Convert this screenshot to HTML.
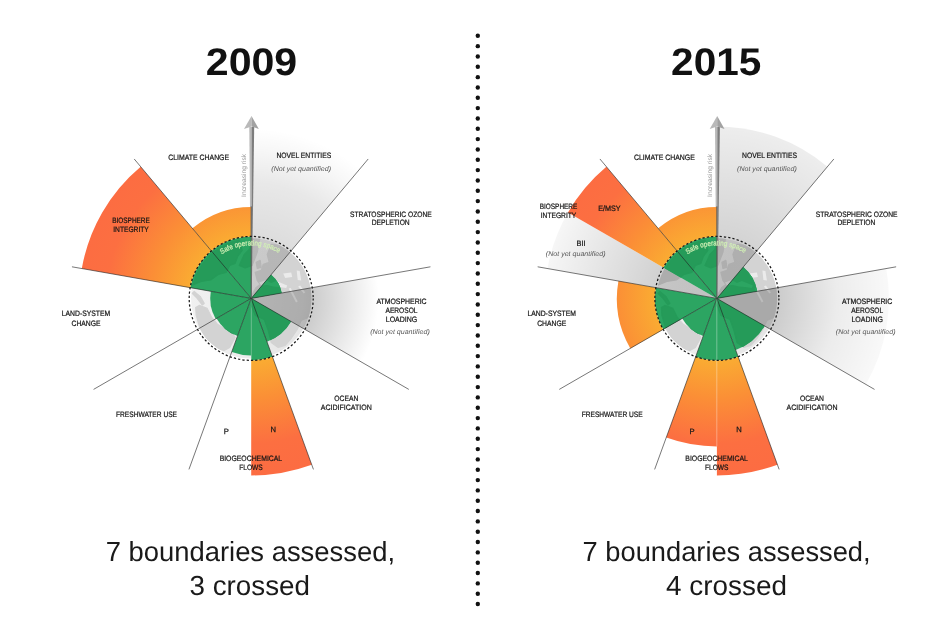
<!DOCTYPE html>
<html lang="en">
<head>
<meta charset="utf-8">
<title>Planetary boundaries 2009 vs 2015</title>
<style>
html,body{margin:0;padding:0;background:#fff;}
body{width:945px;height:627px;overflow:hidden;}
svg{display:block;font-family:"Liberation Sans", sans-serif;text-rendering:geometricPrecision;}
.lb{font-size:7.8px;fill:#151515;stroke:#151515;stroke-width:0.22px;}
.pn{font-size:7.6px;fill:#1a1a1a;stroke:#1a1a1a;stroke-width:0.25px;}
.it{font-size:6.8px;font-style:italic;fill:#555;}
.ttl{font-size:38.5px;font-weight:bold;fill:#111;}
.sub{font-size:27.6px;fill:#1a1a1a;}
</style>
</head>
<body>
<svg width="945" height="627" viewBox="0 0 945 627">
<rect width="945" height="627" fill="#fff"/>
<g fill="#111">
<circle cx="477.8" cy="35.80" r="2.2"/>
<circle cx="477.8" cy="46.13" r="2.2"/>
<circle cx="477.8" cy="56.46" r="2.2"/>
<circle cx="477.8" cy="66.80" r="2.2"/>
<circle cx="477.8" cy="77.13" r="2.2"/>
<circle cx="477.8" cy="87.46" r="2.2"/>
<circle cx="477.8" cy="97.79" r="2.2"/>
<circle cx="477.8" cy="108.12" r="2.2"/>
<circle cx="477.8" cy="118.46" r="2.2"/>
<circle cx="477.8" cy="128.79" r="2.2"/>
<circle cx="477.8" cy="139.12" r="2.2"/>
<circle cx="477.8" cy="149.45" r="2.2"/>
<circle cx="477.8" cy="159.78" r="2.2"/>
<circle cx="477.8" cy="170.12" r="2.2"/>
<circle cx="477.8" cy="180.45" r="2.2"/>
<circle cx="477.8" cy="190.78" r="2.2"/>
<circle cx="477.8" cy="201.11" r="2.2"/>
<circle cx="477.8" cy="211.44" r="2.2"/>
<circle cx="477.8" cy="221.78" r="2.2"/>
<circle cx="477.8" cy="232.11" r="2.2"/>
<circle cx="477.8" cy="242.44" r="2.2"/>
<circle cx="477.8" cy="252.77" r="2.2"/>
<circle cx="477.8" cy="263.10" r="2.2"/>
<circle cx="477.8" cy="273.44" r="2.2"/>
<circle cx="477.8" cy="283.77" r="2.2"/>
<circle cx="477.8" cy="294.10" r="2.2"/>
<circle cx="477.8" cy="304.43" r="2.2"/>
<circle cx="477.8" cy="314.76" r="2.2"/>
<circle cx="477.8" cy="325.10" r="2.2"/>
<circle cx="477.8" cy="335.43" r="2.2"/>
<circle cx="477.8" cy="345.76" r="2.2"/>
<circle cx="477.8" cy="356.09" r="2.2"/>
<circle cx="477.8" cy="366.42" r="2.2"/>
<circle cx="477.8" cy="376.76" r="2.2"/>
<circle cx="477.8" cy="387.09" r="2.2"/>
<circle cx="477.8" cy="397.42" r="2.2"/>
<circle cx="477.8" cy="407.75" r="2.2"/>
<circle cx="477.8" cy="418.08" r="2.2"/>
<circle cx="477.8" cy="428.42" r="2.2"/>
<circle cx="477.8" cy="438.75" r="2.2"/>
<circle cx="477.8" cy="449.08" r="2.2"/>
<circle cx="477.8" cy="459.41" r="2.2"/>
<circle cx="477.8" cy="469.74" r="2.2"/>
<circle cx="477.8" cy="480.08" r="2.2"/>
<circle cx="477.8" cy="490.41" r="2.2"/>
<circle cx="477.8" cy="500.74" r="2.2"/>
<circle cx="477.8" cy="511.07" r="2.2"/>
<circle cx="477.8" cy="521.40" r="2.2"/>
<circle cx="477.8" cy="531.74" r="2.2"/>
<circle cx="477.8" cy="542.07" r="2.2"/>
<circle cx="477.8" cy="552.40" r="2.2"/>
<circle cx="477.8" cy="562.73" r="2.2"/>
<circle cx="477.8" cy="573.06" r="2.2"/>
<circle cx="477.8" cy="583.40" r="2.2"/>
<circle cx="477.8" cy="593.73" r="2.2"/>
<circle cx="477.8" cy="604.06" r="2.2"/>
</g>
<text x="251.5" y="75" class="ttl" text-anchor="middle" textLength="91.4" lengthAdjust="spacingAndGlyphs">2009</text>
<text x="716.2" y="75" class="ttl" text-anchor="middle" textLength="90.2" lengthAdjust="spacingAndGlyphs">2015</text>
<g>
<defs>
<radialGradient id="ora" gradientUnits="userSpaceOnUse" cx="251.2" cy="298.4" r="177">
<stop offset="0.34" stop-color="#faad32"/><stop offset="0.565" stop-color="#fb8f36"/><stop offset="0.82" stop-color="#fc6f41"/><stop offset="1" stop-color="#fc6c42"/>
</radialGradient>
<radialGradient id="gfa" gradientUnits="userSpaceOnUse" cx="251.2" cy="298.4" r="170">
<stop offset="0" stop-color="#000" stop-opacity="0.14"/><stop offset="0.365" stop-color="#000" stop-opacity="0.135"/><stop offset="0.68" stop-color="#000" stop-opacity="0.09"/><stop offset="0.88" stop-color="#000" stop-opacity="0.03"/><stop offset="1" stop-color="#000" stop-opacity="0"/>
</radialGradient>
<radialGradient id="gaa" gradientUnits="userSpaceOnUse" cx="251.2" cy="298.4" r="128">
<stop offset="0" stop-color="#000" stop-opacity="0.15"/><stop offset="0.4" stop-color="#000" stop-opacity="0.18"/><stop offset="0.48" stop-color="#000" stop-opacity="0.2"/><stop offset="1" stop-color="#000" stop-opacity="0"/>
</radialGradient>
<radialGradient id="gsa" gradientUnits="userSpaceOnUse" cx="251.2" cy="298.4" r="172">
<stop offset="0" stop-color="#000" stop-opacity="0.18"/><stop offset="0.36" stop-color="#000" stop-opacity="0.17"/><stop offset="1" stop-color="#000" stop-opacity="0.07"/>
</radialGradient>
<radialGradient id="gba" gradientUnits="userSpaceOnUse" cx="251.2" cy="298.4" r="172">
<stop offset="0" stop-color="#000" stop-opacity="0.18"/><stop offset="0.36" stop-color="#000" stop-opacity="0.18"/><stop offset="1" stop-color="#000" stop-opacity="0.035"/>
</radialGradient>
<radialGradient id="gca" gradientUnits="userSpaceOnUse" cx="251.2" cy="298.4" r="172">
<stop offset="0" stop-color="#000" stop-opacity="0.2"/><stop offset="0.36" stop-color="#000" stop-opacity="0.2"/><stop offset="0.7" stop-color="#000" stop-opacity="0.075"/><stop offset="1" stop-color="#000" stop-opacity="0.025"/>
</radialGradient>
<linearGradient id="gla" x1="0" x2="1" y1="0" y2="0"><stop offset="0" stop-color="#f1f1f1"/><stop offset="1" stop-color="#e4e4e4"/></linearGradient>
<clipPath id="cga"><circle cx="251.2" cy="298.4" r="60.2"/></clipPath>
<path id="tpa" d="M205.30 271.90A53 53 0 0 1 297.10 271.90"/>
</defs>
<circle cx="251.2" cy="298.4" r="60.2" fill="url(#gla)"/>
<g clip-path="url(#cga)"><g transform="translate(251.2 298.4)"><g fill="#d3d3d3" stroke="#d3d3d3" stroke-width="1.2" stroke-linejoin="round">
<path d="M-62 -12 L-50 -17 L-40.5 -18.5 L-33 -24 L-25 -26 L-21.5 -33 L-16 -35 L-13.5 -42 L-9 -48 L-13 -62 L-40 -52 L-56 -34Z"/>
<path d="M-12 -33 L-7 -44 L-2 -49 L2 -62 L9 -62 L6 -46 L1 -33 L-6 -30.5Z"/>
<path d="M-57 -7 L-51 -2 L-47 5 L-49 6.5 L-54 0 L-59 -5Z"/>
<path d="M-52 7 L-44 10 L-39.5 19 L-34 25.5 L-27 30 L-18.5 35.5 L-16 39 L-19 44.5 L-21.5 49 L-27 52 L-33 50.5 L-44 41.5 L-51.5 29 L-55 17 L-55.5 9Z"/>
<path d="M6 -18 L4 -26 L10 -28 L12 -34 L18 -36 L16 -44 L20 -54 L30 -53 L41 -46 L51 -36 L58 -22 L62 -6 L62 6 L57 19 L50 22 L46 31 L40 40 L34 47 L27 49 L20 44 L17 32 L13 21 L4 17 L0 7 L1 -4 L5 -11 L9 -14Z"/>
<path d="M5 -36 L9 -38 L10 -31 L6 -30Z"/>
</g><g fill="#ebebeb">
<path d="M8 -16 L15 -18.5 L20 -15.5 L25 -17.5 L30 -15.5 L36 -13 L35 -10.5 L28 -11.5 L22 -12 L16 -13.5 L10 -13Z"/>
<path d="M32 -25 L40 -26 L41 -21.5 L34 -20.5Z"/>
<path d="M45.5 -28 L48.5 -27.5 L50 -18 L46.5 -18.5Z"/>
<path d="M37.5 -10 L39.5 -10.5 L46.5 3 L44.8 4Z"/>
<path d="M47 -12 L49 -13 L54 -6 L52.5 -5Z"/>
</g></g></g>
<path d="M251.20 298.40L251.20 128.40A170 170 0 0 1 360.47 168.17Z" fill="url(#gfa)"/>
<path d="M251.20 298.40L377.26 276.17A128 128 0 0 1 362.05 362.40Z" fill="url(#gaa)"/>
<path d="M249.30 127.10L251.80 127.10L251.80 298.40L250.80 298.40Z" fill="#b9b9b9"/>
<path d="M251.70 127.10L254.20 127.10L251.70 298.40Z" fill="#7d7d7d"/>
<path d="M251.50 116.10L244.00 128.90L251.50 126.40Z" fill="#b9b9b9"/>
<path d="M251.50 116.10L258.80 128.90L251.50 126.40Z" fill="#a2a2a2"/>
<path d="M251.20 298.40L211.35 250.91A62 62 0 0 1 251.20 236.40Z" fill="#2ca562"/>
<path d="M251.20 298.40L190.14 287.63A62 62 0 0 1 211.35 250.91Z" fill="#2ca562"/>
<path d="M251.20 298.40L215.69 318.90A41 41 0 0 1 210.82 291.28Z" fill="#2ca562"/>
<path d="M251.20 298.40L237.52 335.99A40 40 0 0 1 216.56 318.40Z" fill="#2ca562"/>
<path d="M251.20 298.40L251.20 355.40A57 57 0 0 1 231.70 351.96Z" fill="#2ca562"/>
<path d="M251.20 298.40L272.41 356.66A62 62 0 0 1 251.20 360.40Z" fill="#2ca562"/>
<path d="M251.20 298.40L291.04 321.40A46 46 0 0 1 266.93 341.63Z" fill="#2ca562"/>
<path d="M251.20 298.40L271.13 274.65A31 31 0 0 1 281.73 293.02Z" fill="#2ca562"/>
<clipPath id="cgra"><path d="M251.20 298.40L211.35 250.91A62 62 0 0 1 251.20 236.40Z M251.20 298.40L190.14 287.63A62 62 0 0 1 211.35 250.91Z M251.20 298.40L215.69 318.90A41 41 0 0 1 210.82 291.28Z M251.20 298.40L237.52 335.99A40 40 0 0 1 216.56 318.40Z M251.20 298.40L251.20 355.40A57 57 0 0 1 231.70 351.96Z M251.20 298.40L272.41 356.66A62 62 0 0 1 251.20 360.40Z M251.20 298.40L291.04 321.40A46 46 0 0 1 266.93 341.63Z M251.20 298.40L271.13 274.65A31 31 0 0 1 281.73 293.02Z"/></clipPath>
<g clip-path="url(#cgra)"><g clip-path="url(#cga)"><g transform="translate(251.2 298.4)"><g fill="#259b59" stroke="#259b59" stroke-width="1.2" stroke-linejoin="round">
<path d="M-62 -12 L-50 -17 L-40.5 -18.5 L-33 -24 L-25 -26 L-21.5 -33 L-16 -35 L-13.5 -42 L-9 -48 L-13 -62 L-40 -52 L-56 -34Z"/>
<path d="M-12 -33 L-7 -44 L-2 -49 L2 -62 L9 -62 L6 -46 L1 -33 L-6 -30.5Z"/>
<path d="M-57 -7 L-51 -2 L-47 5 L-49 6.5 L-54 0 L-59 -5Z"/>
<path d="M-52 7 L-44 10 L-39.5 19 L-34 25.5 L-27 30 L-18.5 35.5 L-16 39 L-19 44.5 L-21.5 49 L-27 52 L-33 50.5 L-44 41.5 L-51.5 29 L-55 17 L-55.5 9Z"/>
<path d="M6 -18 L4 -26 L10 -28 L12 -34 L18 -36 L16 -44 L20 -54 L30 -53 L41 -46 L51 -36 L58 -22 L62 -6 L62 6 L57 19 L50 22 L46 31 L40 40 L34 47 L27 49 L20 44 L17 32 L13 21 L4 17 L0 7 L1 -4 L5 -11 L9 -14Z"/>
<path d="M5 -36 L9 -38 L10 -31 L6 -30Z"/>
</g><g fill="#2ca562">
<path d="M8 -16 L15 -18.5 L20 -15.5 L25 -17.5 L30 -15.5 L36 -13 L35 -10.5 L28 -11.5 L22 -12 L16 -13.5 L10 -13Z"/>
<path d="M32 -25 L40 -26 L41 -21.5 L34 -20.5Z"/>
<path d="M45.5 -28 L48.5 -27.5 L50 -18 L46.5 -18.5Z"/>
<path d="M37.5 -10 L39.5 -10.5 L46.5 3 L44.8 4Z"/>
<path d="M47 -12 L49 -13 L54 -6 L52.5 -5Z"/>
</g></g></g></g>
<path d="M211.35 250.91L192.38 228.31A91.5 91.5 0 0 1 251.20 206.90L251.20 236.40A62 62 0 0 0 211.35 250.91Z" fill="url(#ora)"/>
<path d="M190.14 287.63L81.81 268.53A172 172 0 0 1 140.64 166.64L211.35 250.91A62 62 0 0 0 190.14 287.63Z" fill="url(#ora)"/>
<path d="M272.41 356.66L311.74 464.73A177 177 0 0 1 251.20 475.40L251.20 360.40A62 62 0 0 0 272.41 356.66Z" fill="url(#ora)"/>
<line x1="251.2" y1="298.4" x2="368.19" y2="158.98" stroke="#222" stroke-width="0.62"/>
<line x1="251.2" y1="298.4" x2="430.44" y2="266.80" stroke="#222" stroke-width="0.62"/>
<line x1="251.2" y1="298.4" x2="408.82" y2="389.40" stroke="#222" stroke-width="0.62"/>
<line x1="251.2" y1="298.4" x2="313.45" y2="469.42" stroke="#222" stroke-width="0.62"/>
<line x1="251.2" y1="298.4" x2="188.95" y2="469.42" stroke="#222" stroke-width="0.62"/>
<line x1="251.2" y1="298.4" x2="93.58" y2="389.40" stroke="#222" stroke-width="0.62"/>
<line x1="251.2" y1="298.4" x2="71.96" y2="266.80" stroke="#222" stroke-width="0.62"/>
<line x1="251.2" y1="298.4" x2="134.21" y2="158.98" stroke="#222" stroke-width="0.62"/>
<line x1="251.2" y1="298.4" x2="251.2" y2="360.4" stroke="#fff" stroke-opacity="0.35" stroke-width="0.5"/>
<line x1="251.2" y1="298.4" x2="251.2" y2="206.39999999999998" stroke="#555" stroke-width="1"/>
<circle cx="251.2" cy="298.4" r="62" fill="none" stroke="#1a1a1a" stroke-width="1.25" stroke-dasharray="2.25 2.08"/>
<text transform="translate(246.00 196.90) rotate(-90)" font-size="6.6" fill="#949494" textLength="43" lengthAdjust="spacingAndGlyphs">Increasing risk</text>
<text font-size="7.4" fill="#d2f0b6" stroke="#d2f0b6" stroke-width="0.2"><textPath href="#tpa" startOffset="49%" text-anchor="middle" textLength="60" lengthAdjust="spacingAndGlyphs">Safe operating space</textPath></text>
</g>
<g>
<defs>
<radialGradient id="orb" gradientUnits="userSpaceOnUse" cx="716.9" cy="298.4" r="177">
<stop offset="0.34" stop-color="#faad32"/><stop offset="0.565" stop-color="#fb8f36"/><stop offset="0.82" stop-color="#fc6f41"/><stop offset="1" stop-color="#fc6c42"/>
</radialGradient>
<radialGradient id="gfb" gradientUnits="userSpaceOnUse" cx="716.9" cy="298.4" r="170">
<stop offset="0" stop-color="#000" stop-opacity="0.14"/><stop offset="0.365" stop-color="#000" stop-opacity="0.135"/><stop offset="0.68" stop-color="#000" stop-opacity="0.09"/><stop offset="0.88" stop-color="#000" stop-opacity="0.03"/><stop offset="1" stop-color="#000" stop-opacity="0"/>
</radialGradient>
<radialGradient id="gab" gradientUnits="userSpaceOnUse" cx="716.9" cy="298.4" r="128">
<stop offset="0" stop-color="#000" stop-opacity="0.15"/><stop offset="0.4" stop-color="#000" stop-opacity="0.18"/><stop offset="0.48" stop-color="#000" stop-opacity="0.2"/><stop offset="1" stop-color="#000" stop-opacity="0"/>
</radialGradient>
<radialGradient id="gsb" gradientUnits="userSpaceOnUse" cx="716.9" cy="298.4" r="172">
<stop offset="0" stop-color="#000" stop-opacity="0.18"/><stop offset="0.36" stop-color="#000" stop-opacity="0.17"/><stop offset="1" stop-color="#000" stop-opacity="0.07"/>
</radialGradient>
<radialGradient id="gbb" gradientUnits="userSpaceOnUse" cx="716.9" cy="298.4" r="172">
<stop offset="0" stop-color="#000" stop-opacity="0.18"/><stop offset="0.36" stop-color="#000" stop-opacity="0.18"/><stop offset="1" stop-color="#000" stop-opacity="0.035"/>
</radialGradient>
<radialGradient id="gcb" gradientUnits="userSpaceOnUse" cx="716.9" cy="298.4" r="172">
<stop offset="0" stop-color="#000" stop-opacity="0.2"/><stop offset="0.36" stop-color="#000" stop-opacity="0.2"/><stop offset="0.7" stop-color="#000" stop-opacity="0.075"/><stop offset="1" stop-color="#000" stop-opacity="0.025"/>
</radialGradient>
<linearGradient id="glb" x1="0" x2="1" y1="0" y2="0"><stop offset="0" stop-color="#f1f1f1"/><stop offset="1" stop-color="#e4e4e4"/></linearGradient>
<clipPath id="cgb"><circle cx="716.9" cy="298.4" r="60.2"/></clipPath>
<path id="tpb" d="M671.00 271.90A53 53 0 0 1 762.80 271.90"/>
</defs>
<circle cx="716.9" cy="298.4" r="60.2" fill="url(#glb)"/>
<g clip-path="url(#cgb)"><g transform="translate(716.9 298.4)"><g fill="#d3d3d3" stroke="#d3d3d3" stroke-width="1.2" stroke-linejoin="round">
<path d="M-62 -12 L-50 -17 L-40.5 -18.5 L-33 -24 L-25 -26 L-21.5 -33 L-16 -35 L-13.5 -42 L-9 -48 L-13 -62 L-40 -52 L-56 -34Z"/>
<path d="M-12 -33 L-7 -44 L-2 -49 L2 -62 L9 -62 L6 -46 L1 -33 L-6 -30.5Z"/>
<path d="M-57 -7 L-51 -2 L-47 5 L-49 6.5 L-54 0 L-59 -5Z"/>
<path d="M-52 7 L-44 10 L-39.5 19 L-34 25.5 L-27 30 L-18.5 35.5 L-16 39 L-19 44.5 L-21.5 49 L-27 52 L-33 50.5 L-44 41.5 L-51.5 29 L-55 17 L-55.5 9Z"/>
<path d="M6 -18 L4 -26 L10 -28 L12 -34 L18 -36 L16 -44 L20 -54 L30 -53 L41 -46 L51 -36 L58 -22 L62 -6 L62 6 L57 19 L50 22 L46 31 L40 40 L34 47 L27 49 L20 44 L17 32 L13 21 L4 17 L0 7 L1 -4 L5 -11 L9 -14Z"/>
<path d="M5 -36 L9 -38 L10 -31 L6 -30Z"/>
</g><g fill="#ebebeb">
<path d="M8 -16 L15 -18.5 L20 -15.5 L25 -17.5 L30 -15.5 L36 -13 L35 -10.5 L28 -11.5 L22 -12 L16 -13.5 L10 -13Z"/>
<path d="M32 -25 L40 -26 L41 -21.5 L34 -20.5Z"/>
<path d="M45.5 -28 L48.5 -27.5 L50 -18 L46.5 -18.5Z"/>
<path d="M37.5 -10 L39.5 -10.5 L46.5 3 L44.8 4Z"/>
<path d="M47 -12 L49 -13 L54 -6 L52.5 -5Z"/>
</g></g></g>
<path d="M716.90 298.40L716.90 126.40A172 172 0 0 1 827.46 166.64Z" fill="url(#gsb)"/>
<path d="M716.90 298.40L886.29 268.53A172 172 0 0 1 865.86 384.40Z" fill="url(#gcb)"/>
<path d="M716.90 298.40L547.51 268.53A172 172 0 0 1 567.94 212.40Z" fill="url(#gbb)"/>
<path d="M715.00 127.10L717.50 127.10L717.50 298.40L716.50 298.40Z" fill="#b9b9b9"/>
<path d="M717.40 127.10L719.90 127.10L717.40 298.40Z" fill="#7d7d7d"/>
<path d="M717.20 116.10L709.70 128.90L717.20 126.40Z" fill="#b9b9b9"/>
<path d="M717.20 116.10L724.50 128.90L717.20 126.40Z" fill="#a2a2a2"/>
<path d="M716.90 298.40L677.05 250.91A62 62 0 0 1 716.90 236.40Z" fill="#2ca562"/>
<path d="M716.90 298.40L663.21 267.40A62 62 0 0 1 677.05 250.91Z" fill="#2ca562"/>
<path d="M716.90 298.40L663.21 329.40A62 62 0 0 1 655.84 287.63Z" fill="#2ca562"/>
<path d="M716.90 298.40L703.22 335.99A40 40 0 0 1 682.26 318.40Z" fill="#2ca562"/>
<path d="M716.90 298.40L716.90 360.40A62 62 0 0 1 695.69 356.66Z" fill="#2ca562"/>
<path d="M716.90 298.40L738.11 356.66A62 62 0 0 1 716.90 360.40Z" fill="#2ca562"/>
<path d="M716.90 298.40L764.53 325.90A55 55 0 0 1 735.71 350.08Z" fill="#2ca562"/>
<path d="M716.90 298.40L743.25 266.99A41 41 0 0 1 757.28 291.28Z" fill="#2ca562"/>
<clipPath id="cgrb"><path d="M716.90 298.40L677.05 250.91A62 62 0 0 1 716.90 236.40Z M716.90 298.40L663.21 267.40A62 62 0 0 1 677.05 250.91Z M716.90 298.40L663.21 329.40A62 62 0 0 1 655.84 287.63Z M716.90 298.40L703.22 335.99A40 40 0 0 1 682.26 318.40Z M716.90 298.40L716.90 360.40A62 62 0 0 1 695.69 356.66Z M716.90 298.40L738.11 356.66A62 62 0 0 1 716.90 360.40Z M716.90 298.40L764.53 325.90A55 55 0 0 1 735.71 350.08Z M716.90 298.40L743.25 266.99A41 41 0 0 1 757.28 291.28Z"/></clipPath>
<g clip-path="url(#cgrb)"><g clip-path="url(#cgb)"><g transform="translate(716.9 298.4)"><g fill="#259b59" stroke="#259b59" stroke-width="1.2" stroke-linejoin="round">
<path d="M-62 -12 L-50 -17 L-40.5 -18.5 L-33 -24 L-25 -26 L-21.5 -33 L-16 -35 L-13.5 -42 L-9 -48 L-13 -62 L-40 -52 L-56 -34Z"/>
<path d="M-12 -33 L-7 -44 L-2 -49 L2 -62 L9 -62 L6 -46 L1 -33 L-6 -30.5Z"/>
<path d="M-57 -7 L-51 -2 L-47 5 L-49 6.5 L-54 0 L-59 -5Z"/>
<path d="M-52 7 L-44 10 L-39.5 19 L-34 25.5 L-27 30 L-18.5 35.5 L-16 39 L-19 44.5 L-21.5 49 L-27 52 L-33 50.5 L-44 41.5 L-51.5 29 L-55 17 L-55.5 9Z"/>
<path d="M6 -18 L4 -26 L10 -28 L12 -34 L18 -36 L16 -44 L20 -54 L30 -53 L41 -46 L51 -36 L58 -22 L62 -6 L62 6 L57 19 L50 22 L46 31 L40 40 L34 47 L27 49 L20 44 L17 32 L13 21 L4 17 L0 7 L1 -4 L5 -11 L9 -14Z"/>
<path d="M5 -36 L9 -38 L10 -31 L6 -30Z"/>
</g><g fill="#2ca562">
<path d="M8 -16 L15 -18.5 L20 -15.5 L25 -17.5 L30 -15.5 L36 -13 L35 -10.5 L28 -11.5 L22 -12 L16 -13.5 L10 -13Z"/>
<path d="M32 -25 L40 -26 L41 -21.5 L34 -20.5Z"/>
<path d="M45.5 -28 L48.5 -27.5 L50 -18 L46.5 -18.5Z"/>
<path d="M37.5 -10 L39.5 -10.5 L46.5 3 L44.8 4Z"/>
<path d="M47 -12 L49 -13 L54 -6 L52.5 -5Z"/>
</g></g></g></g>
<path d="M677.05 250.91L658.08 228.31A91.5 91.5 0 0 1 716.90 206.90L716.90 236.40A62 62 0 0 0 677.05 250.91Z" fill="url(#orb)"/>
<path d="M663.21 267.40L567.94 212.40A172 172 0 0 1 606.34 166.64L677.05 250.91A62 62 0 0 0 663.21 267.40Z" fill="url(#orb)"/>
<path d="M663.21 329.40L630.30 348.40A100 100 0 0 1 618.42 281.04L655.84 287.63A62 62 0 0 0 663.21 329.40Z" fill="url(#orb)"/>
<path d="M716.90 360.40L716.90 446.40A148 148 0 0 1 666.28 437.47L695.69 356.66A62 62 0 0 0 716.90 360.40Z" fill="url(#orb)"/>
<path d="M738.11 356.66L777.44 464.73A177 177 0 0 1 716.90 475.40L716.90 360.40A62 62 0 0 0 738.11 356.66Z" fill="url(#orb)"/>
<line x1="716.9" y1="298.4" x2="833.89" y2="158.98" stroke="#222" stroke-width="0.62"/>
<line x1="716.9" y1="298.4" x2="896.14" y2="266.80" stroke="#222" stroke-width="0.62"/>
<line x1="716.9" y1="298.4" x2="874.52" y2="389.40" stroke="#222" stroke-width="0.62"/>
<line x1="716.9" y1="298.4" x2="779.15" y2="469.42" stroke="#222" stroke-width="0.62"/>
<line x1="716.9" y1="298.4" x2="654.65" y2="469.42" stroke="#222" stroke-width="0.62"/>
<line x1="716.9" y1="298.4" x2="559.28" y2="389.40" stroke="#222" stroke-width="0.62"/>
<line x1="716.9" y1="298.4" x2="537.66" y2="266.80" stroke="#222" stroke-width="0.62"/>
<line x1="716.9" y1="298.4" x2="599.91" y2="158.98" stroke="#222" stroke-width="0.62"/>
<line x1="716.9" y1="298.4" x2="716.9" y2="446.4" stroke="#fff" stroke-opacity="0.55" stroke-width="0.5"/>
<line x1="716.9" y1="298.4" x2="716.9" y2="206.39999999999998" stroke="#555" stroke-width="1"/>
<circle cx="716.9" cy="298.4" r="62" fill="none" stroke="#1a1a1a" stroke-width="1.25" stroke-dasharray="2.25 2.08"/>
<text transform="translate(711.70 196.90) rotate(-90)" font-size="6.6" fill="#949494" textLength="43" lengthAdjust="spacingAndGlyphs">Increasing risk</text>
<text font-size="7.4" fill="#d2f0b6" stroke="#d2f0b6" stroke-width="0.2"><textPath href="#tpb" startOffset="49%" text-anchor="middle" textLength="60" lengthAdjust="spacingAndGlyphs">Safe operating space</textPath></text>
</g>
<g>
<text x="198.7" y="159.6" class="lb" text-anchor="middle" textLength="60.8" lengthAdjust="spacingAndGlyphs">CLIMATE CHANGE</text>
<text x="303.8" y="158.1" class="lb" text-anchor="middle" textLength="54.8" lengthAdjust="spacingAndGlyphs">NOVEL ENTITIES</text>
<text x="301.2" y="170.6" class="it" text-anchor="middle" textLength="59.7" lengthAdjust="spacingAndGlyphs">(Not yet quantified)</text>
<text x="390.9" y="216.6" class="lb" text-anchor="middle" textLength="81.6" lengthAdjust="spacingAndGlyphs">STRATOSPHERIC OZONE</text>
<text x="390.7" y="225.2" class="lb" text-anchor="middle" textLength="38" lengthAdjust="spacingAndGlyphs">DEPLETION</text>
<text x="401.5" y="303.6" class="lb" text-anchor="middle" textLength="50.2" lengthAdjust="spacingAndGlyphs">ATMOSPHERIC</text>
<text x="401.5" y="312.8" class="lb" text-anchor="middle" textLength="32" lengthAdjust="spacingAndGlyphs">AEROSOL</text>
<text x="401.5" y="322" class="lb" text-anchor="middle" textLength="31.5" lengthAdjust="spacingAndGlyphs">LOADING</text>
<text x="400" y="334.2" class="it" text-anchor="middle" textLength="59.7" lengthAdjust="spacingAndGlyphs">(Not yet quantified)</text>
<text x="346.3" y="400.5" class="lb" text-anchor="middle" textLength="24" lengthAdjust="spacingAndGlyphs">OCEAN</text>
<text x="346.3" y="409.6" class="lb" text-anchor="middle" textLength="51" lengthAdjust="spacingAndGlyphs">ACIDIFICATION</text>
<text x="250.9" y="460.7" class="lb" text-anchor="middle" textLength="62.5" lengthAdjust="spacingAndGlyphs">BIOGEOCHEMICAL</text>
<text x="251" y="469.6" class="lb" text-anchor="middle" textLength="23.5" lengthAdjust="spacingAndGlyphs">FLOWS</text>
<text x="226.3" y="433.6" class="pn" text-anchor="middle">P</text>
<text x="273.2" y="431.6" class="pn" text-anchor="middle">N</text>
<text x="146.5" y="416.5" class="lb" text-anchor="middle" textLength="61" lengthAdjust="spacingAndGlyphs">FRESHWATER USE</text>
<text x="86" y="316.4" class="lb" text-anchor="middle" textLength="48.5" lengthAdjust="spacingAndGlyphs">LAND-SYSTEM</text>
<text x="86" y="325.5" class="lb" text-anchor="middle" textLength="29" lengthAdjust="spacingAndGlyphs">CHANGE</text>
<text x="131" y="222.5" class="lb" text-anchor="middle" textLength="37.5" lengthAdjust="spacingAndGlyphs">BIOSPHERE</text>
<text x="131" y="231.5" class="lb" text-anchor="middle" textLength="35.5" lengthAdjust="spacingAndGlyphs">INTEGRITY</text>
</g>
<g>
<text x="664.4" y="159.6" class="lb" text-anchor="middle" textLength="60.8" lengthAdjust="spacingAndGlyphs">CLIMATE CHANGE</text>
<text x="769.5" y="158.1" class="lb" text-anchor="middle" textLength="54.8" lengthAdjust="spacingAndGlyphs">NOVEL ENTITIES</text>
<text x="766.9" y="170.6" class="it" text-anchor="middle" textLength="59.7" lengthAdjust="spacingAndGlyphs">(Not yet quantified)</text>
<text x="856.6" y="216.6" class="lb" text-anchor="middle" textLength="81.6" lengthAdjust="spacingAndGlyphs">STRATOSPHERIC OZONE</text>
<text x="856.4" y="225.2" class="lb" text-anchor="middle" textLength="38" lengthAdjust="spacingAndGlyphs">DEPLETION</text>
<text x="867.2" y="303.6" class="lb" text-anchor="middle" textLength="50.2" lengthAdjust="spacingAndGlyphs">ATMOSPHERIC</text>
<text x="867.2" y="312.8" class="lb" text-anchor="middle" textLength="32" lengthAdjust="spacingAndGlyphs">AEROSOL</text>
<text x="867.2" y="322" class="lb" text-anchor="middle" textLength="31.5" lengthAdjust="spacingAndGlyphs">LOADING</text>
<text x="865.7" y="334.2" class="it" text-anchor="middle" textLength="59.7" lengthAdjust="spacingAndGlyphs">(Not yet quantified)</text>
<text x="812.0" y="400.5" class="lb" text-anchor="middle" textLength="24" lengthAdjust="spacingAndGlyphs">OCEAN</text>
<text x="812.0" y="409.6" class="lb" text-anchor="middle" textLength="51" lengthAdjust="spacingAndGlyphs">ACIDIFICATION</text>
<text x="716.6" y="460.7" class="lb" text-anchor="middle" textLength="62.5" lengthAdjust="spacingAndGlyphs">BIOGEOCHEMICAL</text>
<text x="716.7" y="469.6" class="lb" text-anchor="middle" textLength="23.5" lengthAdjust="spacingAndGlyphs">FLOWS</text>
<text x="692.0" y="433.6" class="pn" text-anchor="middle">P</text>
<text x="738.9" y="431.6" class="pn" text-anchor="middle">N</text>
<text x="612.2" y="416.5" class="lb" text-anchor="middle" textLength="61" lengthAdjust="spacingAndGlyphs">FRESHWATER USE</text>
<text x="551.7" y="316.4" class="lb" text-anchor="middle" textLength="48.5" lengthAdjust="spacingAndGlyphs">LAND-SYSTEM</text>
<text x="551.7" y="325.5" class="lb" text-anchor="middle" textLength="29" lengthAdjust="spacingAndGlyphs">CHANGE</text>
<text x="558.5" y="208.6" class="lb" text-anchor="middle" textLength="37.5" lengthAdjust="spacingAndGlyphs">BIOSPHERE</text>
<text x="558.5" y="217.6" class="lb" text-anchor="middle" textLength="35.5" lengthAdjust="spacingAndGlyphs">INTEGRITY</text>
<text x="609.4" y="211" class="lb" text-anchor="middle" textLength="22.5" lengthAdjust="spacingAndGlyphs">E/MSY</text>
<text x="581.1" y="246.2" class="lb" text-anchor="middle" textLength="9" lengthAdjust="spacingAndGlyphs">BII</text>
<text x="575.7" y="256" class="it" text-anchor="middle" textLength="59.7" lengthAdjust="spacingAndGlyphs">(Not yet quantified)</text>
</g>
<text x="250.35" y="561" class="sub" text-anchor="middle" textLength="289.4" lengthAdjust="spacingAndGlyphs">7 boundaries assessed,</text>
<text x="249.75" y="595.3" class="sub" text-anchor="middle" textLength="120.4" lengthAdjust="spacingAndGlyphs">3 crossed</text>
<text x="726.6" y="561" class="sub" text-anchor="middle" textLength="288" lengthAdjust="spacingAndGlyphs">7 boundaries assessed,</text>
<text x="726.5" y="595.3" class="sub" text-anchor="middle" textLength="120.8" lengthAdjust="spacingAndGlyphs">4 crossed</text>
</svg>
</body>
</html>
